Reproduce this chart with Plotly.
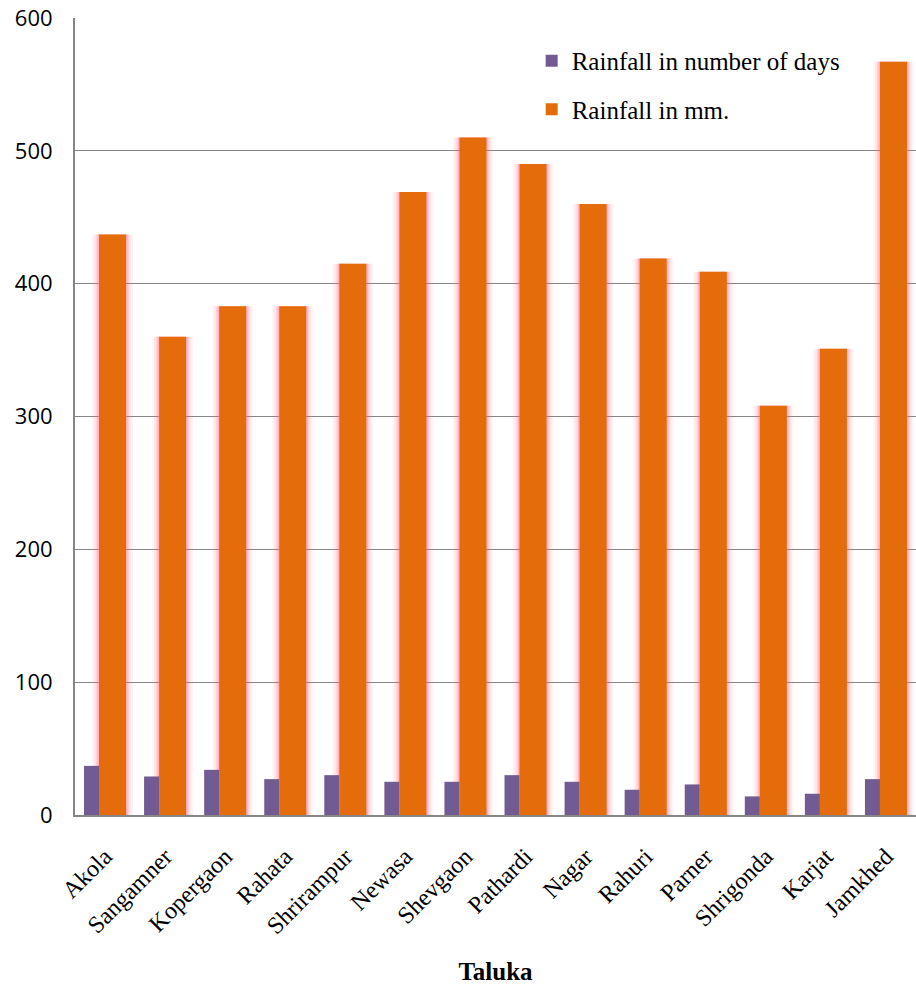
import plotly.graph_objects as go

talukas = ["Akola", "Sangamner", "Kopergaon", "Rahata", "Shrirampur", "Newasa", "Shevgaon",
           "Pathardi", "Nagar", "Rahuri", "Parner", "Shrigonda", "Karjat", "Jamkhed"]
rain_days = [37, 29, 34, 27, 30, 25, 25, 30, 25, 19, 23, 14, 16, 27]
rain_mm = [437, 360, 383, 383, 415, 469, 510, 490, 460, 419, 409, 308, 351, 567]
y_ticks = [0, 100, 200, 300, 400, 500, 600]

PURPLE = "#725B92"
ORANGE = "#E46C0A"
GRID = "#868686"

fig = go.Figure()

# soft pink glow behind orange bars
for extra, alpha in [(14, 0.07), (10, 0.11), (6, 0.18), (3, 0.30)]:
    w = 0.45 + extra / 60
    fig.add_trace(go.Bar(
        x=talukas, y=rain_mm, width=w, offset=-0.1 - extra / 120,
        marker=dict(color=f"rgba(255,110,140,{alpha})", line=dict(width=0)),
        showlegend=False, hoverinfo="skip", legendgroup="glow",
    ))

fig.add_trace(go.Bar(
    x=talukas, y=rain_days, name="Rainfall in number of days",
    width=0.25, offset=-0.35, legendgroup="a",
    marker=dict(color=PURPLE, line=dict(width=0)),
))
fig.add_trace(go.Bar(
    x=talukas, y=rain_mm, name="Rainfall in mm.",
    width=0.45, offset=-0.1, legendgroup="b",
    marker=dict(color=ORANGE, line=dict(width=0)),
))

fig.update_layout(
    width=916, height=990,
    margin=dict(l=75, r=0, t=18, b=175),
    plot_bgcolor="white", paper_bgcolor="white",
    barmode="overlay",
    showlegend=True,
    legend=dict(
        x=0.543, y=0.975, xanchor="left", yanchor="top",
        font=dict(family="Liberation Serif", size=25, color="#000000"),
        bgcolor="rgba(0,0,0,0)", tracegroupgap=13, traceorder="grouped",
    ),
    xaxis=dict(
        type="category", range=[-0.5, len(talukas) - 0.5],
        tickangle=-45,
        tickfont=dict(family="Liberation Serif", size=24, color="#000000"),
        showline=True, linecolor=GRID, linewidth=2,
        showgrid=False, ticks="", ticklabelstandoff=16,
        title=dict(text="<b>Taluka</b>", font=dict(family="Liberation Serif", size=25, color="#000000"),
                   standoff=24),
    ),
    yaxis=dict(
        range=[0, 600], tickvals=y_ticks,
        tickfont=dict(family="Open Sans", size=22, color="#000000"),
        showline=True, linecolor=GRID, linewidth=2,
        showgrid=True, gridcolor=GRID, gridwidth=1.3,
        zeroline=False, ticks="", ticklabelstandoff=16,
    ),
)

fig.write_html("out.html")
